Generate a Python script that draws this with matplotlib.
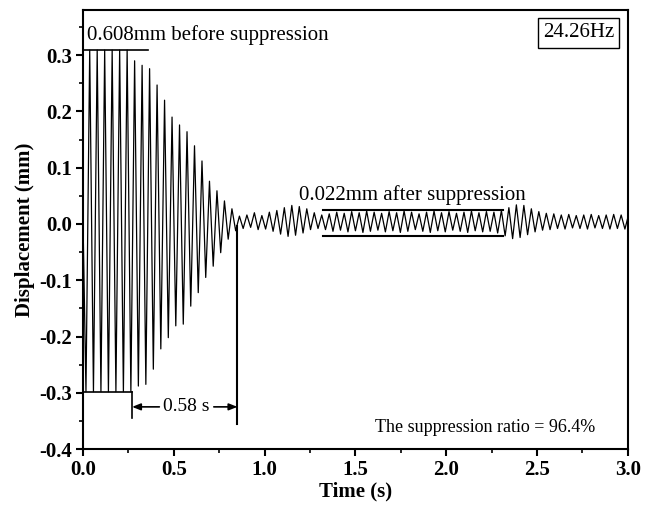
import matplotlib
matplotlib.use('Agg')
import matplotlib.pyplot as plt
import numpy as np

# measured at 24.26 Hz, peak values per cycle (mm)
freq = 24.26
t_first_neg = 0.016  # time of first negative peak (s)

pos_peaks = [0.309, 0.309, 0.309, 0.309, 0.309, 0.309, 0.290, 0.282, 0.276, 0.247,
             0.220, 0.190, 0.176, 0.164, 0.139, 0.112, 0.076, 0.059, 0.041, 0.027,
             0.014, 0.016, 0.020, 0.015, 0.021, 0.024, 0.029, 0.033, 0.031, 0.027,
             0.020, 0.016, 0.018, 0.021, 0.019, 0.022, 0.020, 0.023, 0.021, 0.019,
             0.022, 0.020, 0.023, 0.021, 0.018, 0.021, 0.023, 0.020, 0.022, 0.019,
             0.021, 0.023, 0.020, 0.022, 0.021, 0.024, 0.029, 0.034, 0.033, 0.027,
             0.022, 0.019, 0.018, 0.016, 0.017, 0.015, 0.016, 0.017, 0.015, 0.016,
             0.017, 0.016, 0.017]
neg_peaks = [-0.298, -0.298, -0.298, -0.298, -0.298, -0.298, -0.298, -0.288, -0.285, -0.258,
             -0.222, -0.202, -0.181, -0.178, -0.146, -0.122, -0.095, -0.075, -0.051, -0.027,
             -0.012, -0.008, -0.006, -0.010, -0.009, -0.013, -0.018, -0.022, -0.020, -0.016,
             -0.010, -0.008, -0.010, -0.013, -0.011, -0.014, -0.012, -0.015, -0.013, -0.011,
             -0.014, -0.012, -0.015, -0.013, -0.010, -0.013, -0.015, -0.012, -0.014, -0.011,
             -0.013, -0.015, -0.012, -0.014, -0.013, -0.016, -0.021, -0.026, -0.024, -0.019,
             -0.014, -0.011, -0.010, -0.008, -0.009, -0.007, -0.008, -0.009, -0.007, -0.008,
             -0.009, -0.008, -0.009]

xticks = [0.0, 0.5, 1.0, 1.5, 2.0, 2.5, 3.0]
yticks = [-0.4, -0.3, -0.2, -0.1, 0.0, 0.1, 0.2, 0.3]

period = 1 / freq
n = len(pos_peaks)
t_neg = t_first_neg + np.arange(n) * period
t_pos = t_neg + period / 2
t = np.concatenate([[0.0], np.column_stack([t_neg, t_pos]).ravel()])
y = np.concatenate([[0.0], np.column_stack([neg_peaks, pos_peaks]).ravel()])

plt.rcParams['font.family'] = 'Liberation Serif'

fig = plt.figure(figsize=(6.54, 5.08), dpi=100)
ax = fig.add_axes([0.127, 0.116, 0.833, 0.864])
ax.plot(t, y, color='black', lw=0.9)

ax.set_xlim(0, 3.0)
ax.set_ylim(-0.4, 0.38)
ax.set_xticks(xticks)
ax.set_yticks(yticks)
ax.set_xticklabels([f'{v:.1f}' for v in xticks], fontweight='bold', fontsize=15)
ax.set_yticklabels([f'{v:.1f}' for v in yticks], fontweight='bold', fontsize=15)
ax.set_xticks(np.arange(0.25, 3.0, 0.5), minor=True)
ax.set_yticks(np.arange(-0.35, 0.36, 0.1), minor=True)
ax.tick_params(which='major', direction='out', length=5, width=1.5, pad=3)
ax.tick_params(which='minor', direction='out', length=3, width=1.2)
for s in ax.spines.values():
    s.set_linewidth(1.5)
ax.set_xlabel('Time (s)', fontweight='bold', fontsize=15, labelpad=1)
ax.set_ylabel('Displacement (mm)', fontweight='bold', fontsize=15, labelpad=3)

# annotations
ax.plot([0, 0.36], [0.309, 0.309], color='black', lw=1.2)
ax.text(0.02, 0.318, '0.608mm before suppression', fontsize=15, va='bottom')
ax.plot([0, 0.27], [-0.298, -0.298], color='black', lw=1.2)
ax.plot([0.27, 0.27], [-0.298, -0.345], color='black', lw=1.2)
ax.plot([0.85, 0.85], [-0.003, -0.355], color='black', lw=1.5)
ax.annotate('', xy=(0.27, -0.325), xytext=(0.42, -0.325),
            arrowprops=dict(arrowstyle='-|>,head_length=0.5,head_width=0.2',
                            color='black', lw=1.2, shrinkA=0, shrinkB=0))
ax.annotate('', xy=(0.85, -0.325), xytext=(0.72, -0.325),
            arrowprops=dict(arrowstyle='-|>,head_length=0.5,head_width=0.2',
                            color='black', lw=1.2, shrinkA=0, shrinkB=0))
ax.text(0.57, -0.325, '0.58 s', fontsize=14, ha='center', va='center')

ax.plot([1.32, 2.31], [0.025, 0.025], color='black', lw=1.5)
ax.plot([1.32, 2.31], [-0.021, -0.021], color='black', lw=1.5)
ax.text(1.19, 0.033, '0.022mm after suppression', fontsize=15, va='bottom')

ax.text(0.975, 0.97, '24.26Hz', transform=ax.transAxes, fontsize=15,
        ha='right', va='top',
        bbox=dict(boxstyle='square,pad=0.25', facecolor='white', edgecolor='black', lw=1.0))
ax.text(0.94, 0.05, 'The suppression ratio = 96.4%', transform=ax.transAxes,
        fontsize=13, ha='right', va='center')

fig.savefig('out.png', dpi=100)
